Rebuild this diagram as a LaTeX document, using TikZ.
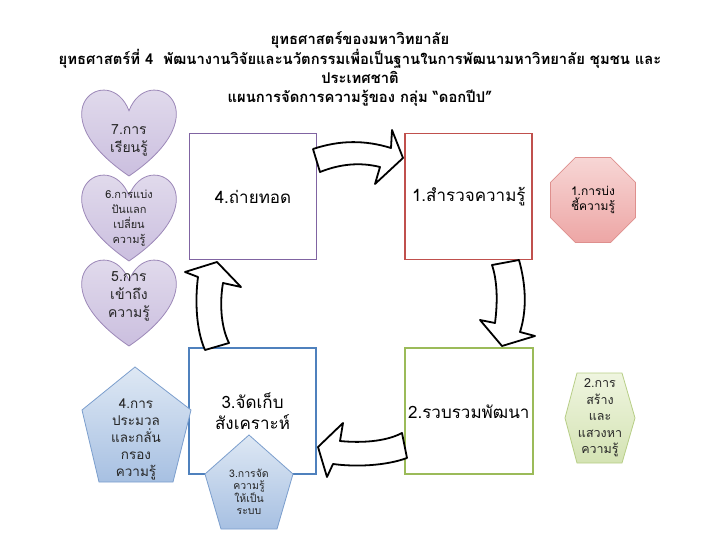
\documentclass[tikz,border=0pt]{standalone}
\usepackage{fontspec}
\setmainfont[Script=Thai]{Loma}
\usetikzlibrary{positioning,shapes.geometric}
\definecolor{kmpurple}{HTML}{8064A2}
\definecolor{kmred}{HTML}{C0504D}
\definecolor{kmgreen}{HTML}{9BBB59}
\definecolor{kmblue}{HTML}{4F81BD}
\definecolor{hearttop}{HTML}{E8E3F0}
\definecolor{heartbot}{HTML}{CBBFDF}
\definecolor{heartline}{HTML}{9C88B8}
\definecolor{octtop}{HTML}{F7D6D5}
\definecolor{octbot}{HTML}{EDA6A5}
\definecolor{octline}{HTML}{DE8F8D}
\definecolor{hextop}{HTML}{EFF5E0}
\definecolor{hexbot}{HTML}{D4E3B3}
\definecolor{hexline}{HTML}{B7CE86}
\definecolor{pentop}{HTML}{DEE8F4}
\definecolor{penbot}{HTML}{A7C0E2}
\definecolor{penline}{HTML}{7B9ECD}

% heart with its top-left corner at (#1,#2), 94 x 87
\newcommand{\drawheart}[2]{%
  \path[heart] (#1+47,#2+21.75) .. controls (#1+66.6,#2-29) and (#1+142.96,#2+21.75) .. (#1+47,#2+87)
    .. controls (#1-48.96,#2+21.75) and (#1+27.4,#2-29) .. cycle;}

\begin{document}
\begin{tikzpicture}[x=1pt, y=-1pt,
    node distance=87pt,
    stage/.style={rectangle, line width=1.8pt, fill=white, minimum width=127pt,
                  minimum height=126pt, align=center, font=\fontsize{17}{21}\selectfont},
    heart/.style={draw=heartline, line width=0.8pt, top color=hearttop, bottom color=heartbot},
    octa/.style={regular polygon, regular polygon sides=8, minimum size=92pt, align=center,
                 draw=octline, line width=0.8pt, top color=octtop, bottom color=octbot},
    hexa/.style={draw=hexline, line width=0.8pt, top color=hextop, bottom color=hexbot},
    penta/.style={draw=penline, line width=0.8pt, top color=pentop, bottom color=penbot},
    hint/.style={align=center, inner sep=0pt, text=black!85},
    bigarrow/.style={draw=black, line width=1.8pt, fill=white, line join=round}
]
    \useasboundingbox (0,0) rectangle (720,540);

    % title
    \node[align=center, font=\bfseries\fontsize{14.8}{19}\selectfont] (title) at (360,68.5)
        {ยุทธศาสตร์ของมหาวิทยาลัย\\
         ยุทธศาสตร์ที่ 4 \ พัฒนางานวิจัยและนวัตกรรมเพื่อเป็นฐานในการพัฒนามหาวิทยาลัย ชุมชน และ\\
         ประเทศชาติ\\
         แผนการจัดการความรู้ของ กลุ่ม “ดอกปีป”};

    % the four stages
    \node[stage, draw=kmpurple] (transfer) at (253,196.5) {4.ถ่ายทอด};
    \node[stage, draw=kmred, right=of transfer] (survey) {1.สำรวจความรู้};
    \node[stage, draw=kmgreen, below=of survey] (collect) {2.รวบรวมพัฒนา};
    \node[stage, draw=kmblue, left=of collect] (store) {3.จัดเก็บ\\สังเคราะห์};

    % hearts
    \drawheart{82}{89}
    \drawheart{82}{174}
    \drawheart{82}{259}
    \node[hint, font=\fontsize{14}{18}\selectfont] (learn) at (129,140) {7.การ\\เรียนรู้};
    \node[hint, font=\fontsize{11}{15}\selectfont] (share) at (129,218) {6.การแบ่ง\\ปันแลก\\เปลี่ยน\\ความรู้};
    \node[hint, font=\fontsize{14}{18}\selectfont] (access) at (129,296) {5.การ\\เข้าถึง\\ความรู้};

    % octagon and hexagon
    \node[octa, font=\fontsize{12}{15}\selectfont] (identify) at (593,200) {1.การบ่ง\\ชี้ความรู้};
    \path[hexa] (565,418) -- (577,373) -- (622,373) -- (635,418) -- (622,463) -- (577,463) -- cycle;
    \node[hint, font=\fontsize{12.5}{16.5}\selectfont] (create) at (600,418) {2.การ\\สร้าง\\และ\\แสวงหา\\ความรู้};

    % pentagons
    \path[penta] (135,367) -- (191,410) -- (173,482) -- (99,482) -- (82,410) -- cycle;
    \node[hint, font=\fontsize{13.5}{17}\selectfont] (filter) at (136,439) {4.การ\\ประมวล\\และกลั่น\\กรอง\\ความรู้};
    \path[penta] (249,435) -- (293,474) -- (277,529) -- (221,529) -- (205,474) -- cycle;
    \node[hint, font=\fontsize{10.5}{12}\selectfont] (organize) at (249,492) {3.การจัด\\ความรู้\\ให้เป็น\\ระบบ};

    % curved block arrows
    \draw[bigarrow] (313,149) .. controls (340,140) and (365,140) .. (391,148) -- (392,130) -- (403,158)
        -- (375,184) -- (380,167) .. controls (360,162) and (340,164) .. (320,172) -- cycle;
    \draw[bigarrow] (492,265) -- (519,260) .. controls (526,285) and (527,310) .. (520,332) -- (535,336)
        -- (502,346) -- (480,320) -- (495,323) .. controls (498,300) and (497,280) .. cycle;
    \draw[bigarrow] (402,433) .. controls (385,442) and (360,443) .. (340,441) -- (343,423) -- (318,447)
        -- (327,477) -- (333,464) .. controls (355,467) and (385,466) .. (407,458) -- cycle;
    \draw[bigarrow] (205,350) .. controls (196,330) and (195,300) .. (198,277) -- (185,272) -- (217,262)
        -- (241,287) -- (223,283) .. controls (220,300) and (220,325) .. (229,343) -- cycle;
\end{tikzpicture}
\end{document}
